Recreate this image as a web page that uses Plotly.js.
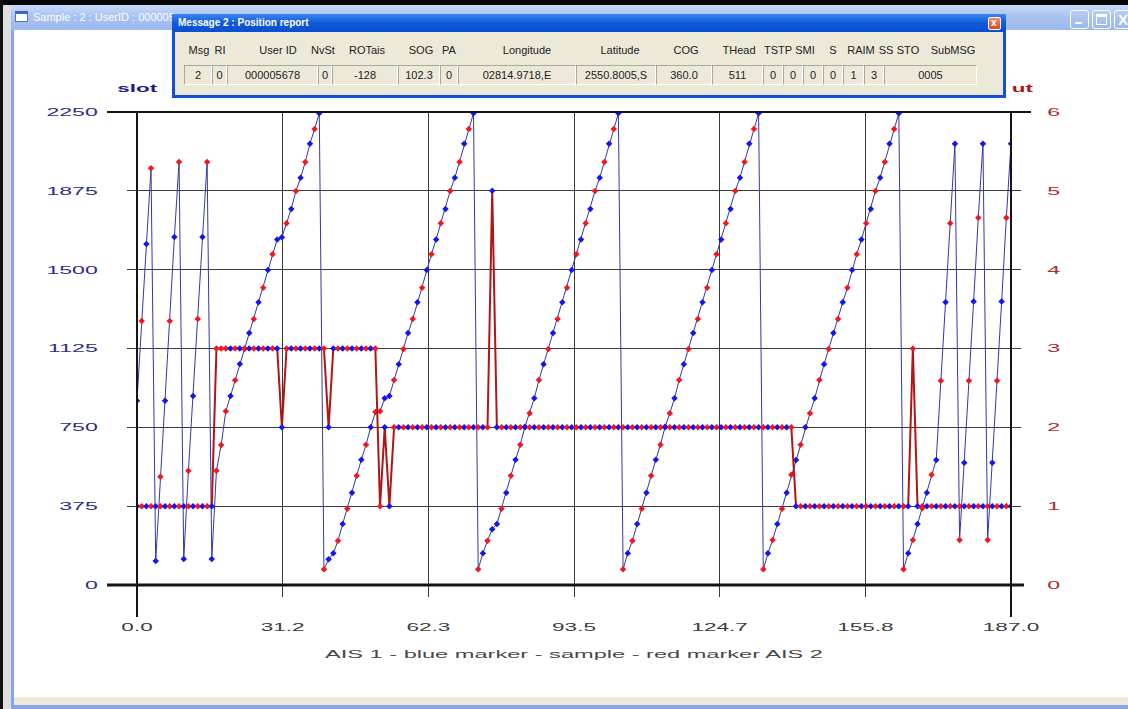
<!DOCTYPE html>
<html>
<head>
<meta charset="utf-8">
<script src="https://cdn.plot.ly/plotly-3.0.1.min.js"></script>
<style>
html,body{margin:0;padding:0;background:#fff;}
#wrap{position:relative;width:1128px;height:709px;overflow:hidden;background:#fff;font-family:"Liberation Sans",Arial,sans-serif;}
#plot{position:absolute;left:0;top:0;width:1128px;height:709px;}
.abs{position:absolute;box-sizing:border-box;}
.hdr{position:absolute;top:44px;width:80px;margin-left:-40px;text-align:center;font-size:11px;color:#222;white-space:nowrap;}
.cell{position:absolute;top:65px;height:20px;box-sizing:border-box;border-top:1px solid #aca899;border-left:1px solid #aca899;border-bottom:1px solid #fff;border-right:1px solid #fff;font-size:11px;color:#222;text-align:center;line-height:18px;white-space:nowrap;}
</style>
</head>
<body>
<div id="wrap">
  <div id="plot"></div>
</div>
<script>
// ---------------- data ----------------
const slotValues = [
  877,1256,1622,1982,114,515,877,1256,1655,2012,124,544,899,1265,1655,2012,124,
  543,666,826,899,974,1051,1123,1199,1265,1345,1414,1498,1573,1644,1654,1721,1789,1874,1937,2012,2099,2169,2244,
  75,122,151,211,290,363,439,520,596,667,750,823,826,888,899,975,1050,1123,1199,1265,1345,1414,1498,1573,1644,1721,1789,1874,1937,2012,2099,2169,2244,
  75,151,211,265,290,363,439,520,596,667,753,817,888,975,1050,1123,1199,1265,1345,1414,1498,1573,1644,1721,1789,1874,1937,2012,2099,2169,2244,
  75,151,211,290,363,439,520,596,667,753,817,888,975,1050,1123,1199,1265,1345,1414,1498,1573,1644,1721,1789,1874,1937,2012,2099,2169,2244,
  75,151,214,290,363,439,525,595,667,750,817,888,975,1050,1123,1199,1265,1345,1414,1498,1573,1644,1721,1789,1874,1937,2012,2099,2169,2244,
  75,151,214,290,365,439,525,595,972,1345,1721,2099,214,582,972,1348,1747,2099,214,582,972,1348,1747,2099
];
const slotTimeout = [
  1,1,1,1,1,1,1,1,1,1,1,1,1,1,1,1,1,
  3,3,3,3,3,3,3,3,3,3,3,3,3,3,
  2,
  3,3,3,3,3,3,3,3,3,
  2,
  3,3,3,3,3,3,3,3,3,3,
  1,2,1,
  2,2,2,2,2,2,2,2,2,2,2,2,2,2,2,2,2,2,2,2,2,
  5,
  2,2,2,2,2,2,2,2,2,2,2,2,2,2,2,2,
  2,2,2,2,2,2,2,2,2,2,2,2,2,2,2,2,
  2,2,2,2,2,2,2,2,2,2,2,2,2,2,2,2,
  2,2,2,2,2,2,2,2,2,2,2,2,2,2,2,2,
  1,1,1,1,1,1,1,1,1,1,1,1,1,1,1,1,1,1,1,1,1,1,1,1,1,
  3,
  1,1,1,1,1,1,1,1,1,1,1,1,1,1,1,1,1,1,1,1,1
];
// 1 = AIS 1 (blue marker), 2 = AIS 2 (red marker)
const channel = [
  1,2,1,2,1,2,1,2,1,2,1,2,1,2,1,2,1,
  2,2,2,1,2,1,2,1,2,1,2,1,2,1,1,2,1,2,1,2,1,2,1,
  2,1,1,2,1,2,1,2,1,2,1,2,2,1,1,2,1,2,1,2,1,2,1,2,1,2,1,2,1,2,1,2,1,
  2,1,2,1,1,2,1,2,1,2,1,2,1,2,1,2,1,2,1,2,1,2,1,2,1,2,1,2,1,2,1,
  2,1,2,1,2,1,2,1,2,1,2,1,2,1,2,1,2,1,2,1,2,1,2,1,2,1,2,1,2,1,
  2,1,2,1,2,1,2,1,2,1,2,1,2,1,2,1,2,1,2,1,2,1,2,1,2,1,2,1,2,1,
  2,1,2,1,2,1,2,1,2,1,2,1,2,1,2,1,2,1,2,1,2,1,2,1
];
const sampleTicks = [0, 31.17, 62.33, 93.5, 124.67, 155.83, 187];
const sampleTickText = ['0.0','31.2','62.3','93.5','124.7','155.8','187.0'];
const slotTicks = [0, 375, 750, 1125, 1500, 1875, 2250];
const timeoutTicks = [0, 1, 2, 3, 4, 5, 6];

const dlgHeaders = ['Msg','RI','User ID','NvSt','ROTais','SOG','PA','Longitude','Latitude','COG','THead','TSTP','SMI','S','RAIM','SS','STO','SubMSG'];
const dlgValues  = ['2','0','000005678','0','-128','102.3','0','02814.9718,E','2550.8005,S','360.0','511','0','0','0','0','1','3','0005'];

// ---------------- styling ----------------
const samples = slotValues.map((_, i) => i);
const chColor = {1:'#1414f2', 2:'#f2161e'};
const markerColors = channel.map(c => chColor[c]);
const FONT = '"Liberation Sans", Arial, sans-serif';

const traces = [
  {x: samples, y: slotValues, type:'scatter', mode:'lines+markers', yaxis:'y',
   line:{color:'#3636a6', width:1},
   marker:{symbol:'diamond', size:5, color:markerColors}, hoverinfo:'skip'},
  {x: samples, y: slotTimeout, type:'scatter', mode:'lines+markers', yaxis:'y2',
   line:{color:'#b01616', width:2},
   marker:{symbol:'diamond', size:5, color:markerColors}, hoverinfo:'skip'}
];

const frameCol = '#141414';
const layout = {
  width:1128, height:709,
  margin:{l:137, r:117, t:112, b:124, pad:0},
  paper_bgcolor:'#ffffff', plot_bgcolor:'#ffffff',
  showlegend:false,
  font:{family:FONT, size:11, color:'#333'},
  xaxis:{range:[0,187], tickmode:'array', tickvals:sampleTicks, ticktext:sampleTickText,
    ticks:'outside', ticklen:11, tickwidth:1, tickcolor:'#3a3a3a',
    showgrid:true, gridcolor:'#3a3a3a', gridwidth:1, zeroline:false, showline:false,
    tickfont:{family:FONT, size:11, color:'#3c3c3c'}, ticklabelstandoff:21,
    title:{text:'AIS 1 - blue marker - sample - red marker AIS 2', font:{family:FONT, size:11.5, color:'#474747'}, standoff:17},
    fixedrange:true},
  yaxis:{range:[0,2250], tickmode:'array', tickvals:slotTicks,
    ticks:'outside', ticklen:9, tickwidth:1, tickcolor:'#3a3a3a',
    showgrid:true, gridcolor:'#3a3a3a', gridwidth:1, zeroline:false, showline:false,
    tickfont:{family:FONT, size:11, color:'#2b2b8f'}, ticklabelstandoff:27, fixedrange:true},
  yaxis2:{range:[0,6], overlaying:'y', side:'right', tickmode:'array', tickvals:timeoutTicks,
    ticks:'outside', ticklen:9, tickwidth:1, tickcolor:'#3a3a3a',
    showgrid:false, zeroline:false, showline:false,
    tickfont:{family:FONT, size:11, color:'#b02a2a'}, ticklabelstandoff:24, fixedrange:true},
  shapes:[
    {type:'line', xref:'paper', yref:'paper', x0:-0.0343, x1:1.0229, y0:1, y1:1, line:{color:frameCol, width:2}},
    {type:'line', xref:'paper', yref:'paper', x0:-0.0343, x1:1.0149, y0:0, y1:0, line:{color:frameCol, width:3}},
    {type:'line', xref:'paper', yref:'paper', x0:0, x1:0, y0:-0.0677, y1:1, line:{color:frameCol, width:2}},
    {type:'line', xref:'paper', yref:'paper', x0:1, x1:1, y0:-0.0677, y1:1, line:{color:frameCol, width:2}}
  ],
  annotations:[
    {xref:'paper', yref:'paper', x:0, y:1.05, text:'slot', showarrow:false, xanchor:'center', yanchor:'middle',
     font:{family:FONT, size:11.5, color:'#1e1e88', weight:700}},
    {xref:'paper', yref:'paper', x:1.0, y:1.05, xshift:4, text:'ut', showarrow:false, xanchor:'left', yanchor:'middle',
     font:{family:FONT, size:11.5, color:'#a81818', weight:700}}
  ]
};

function stretch(sel, k){
  document.querySelectorAll(sel).forEach(t => {
    const w = t.getComputedTextLength();
    if (w > 0){
      t.setAttribute('textLength', (w*k).toFixed(1));
      t.setAttribute('lengthAdjust', 'spacingAndGlyphs');
    }
  });
}

Plotly.newPlot('plot', traces, layout, {staticPlot:true, displayModeBar:false}).then(() => {
  stretch('#plot .xtick text', 2.05);
  stretch('#plot .ytick text', 2.1);
  stretch('#plot .y2tick text', 2.1);
  stretch('#plot .g-xtitle text', 2.05);
  stretch('#plot .annotation-text', 1.95);
  buildChrome();
});

// ---------------- window chrome + dialog ----------------
function box(css, html){
  const d = document.createElement('div');
  d.className = 'abs';
  d.style.cssText = css;
  if (html !== undefined) d.innerHTML = html;
  document.getElementById('wrap').appendChild(d);
  return d;
}
function buildChrome(){
  // outer frame
  box('left:0;top:0;width:1128px;height:5px;background:#060606;');
  box('left:0;top:0;width:3px;height:709px;background:#101010;');
  box('left:3px;top:5px;width:8px;height:704px;background:#dedede;');
  box('left:11px;top:5px;width:3px;height:704px;background:#88a6e6;');
  box('left:14px;top:697px;width:1114px;height:8px;background:#ece9d8;');
  box('left:11px;top:705px;width:1117px;height:4px;background:#88a6e6;');
  // main title bar
  box('left:11px;top:5px;width:1117px;height:25px;background:linear-gradient(#c9daf8,#a9c3f1 45%,#9db8ec);');
  box('left:15px;top:11px;width:13px;height:11px;background:#fff;border:1px solid #5076c8;border-top:3px solid #3f66bd;');
  box('left:33px;top:10px;font-size:11px;color:#ffffff;white-space:nowrap;line-height:14px;', 'Sample : 2 : UserID : 000005');
  // window buttons
  const btn = 'top:10px;width:19px;height:19px;border:1px solid #ffffff;border-radius:3px;background:linear-gradient(#b9cdf3,#9cb7ea);';
  box('left:1070px;' + btn, '<div style="position:absolute;left:4px;top:11px;width:7px;height:2px;background:#fff"></div>');
  box('left:1092px;' + btn, '<div style="position:absolute;left:3px;top:3px;width:11px;height:11px;box-sizing:border-box;border:1px solid #fff;border-top:3px solid #fff"></div>');
  box('left:1114px;' + btn, '<div style="position:absolute;left:3px;top:0px;color:#fff;font-size:15px;font-weight:700;line-height:17px">X</div>');

  // dialog
  box('left:172px;top:14px;width:834px;height:84px;background:#ece9d8;border:3px solid #1150d8;border-top:none;');
  box('left:172px;top:14px;width:834px;height:18px;background:linear-gradient(#3c85f5,#0f5ad9 50%,#0a4fd0);');
  box('left:178px;top:16px;font-size:10px;font-weight:700;color:#fff;white-space:nowrap;line-height:14px;', 'Message 2 : Position report');
  box('left:988px;top:17px;width:13px;height:13px;background:linear-gradient(#f08a6a,#d8481e);border:1px solid #fff;border-radius:2px;',
      '<div style="position:absolute;left:2px;top:-1px;color:#fff;font-size:10px;font-weight:700;line-height:12px">x</div>');

  const hdrX = [199,220,278,323,367,421,449,527,620,686,739,778,805,833,861,886,908,953];
  dlgHeaders.forEach((h, i) => {
    const d = document.createElement('div');
    d.className = 'hdr';
    d.style.left = hdrX[i] + 'px';
    d.textContent = h;
    document.getElementById('wrap').appendChild(d);
  });
  const edges = [184,212,227,318,332,398,440,458,576,656,712,763,783,803,823,843,864,884,977];
  dlgValues.forEach((v, i) => {
    const d = document.createElement('div');
    d.className = 'cell';
    d.style.left = edges[i] + 'px';
    d.style.width = (edges[i+1] - edges[i]) + 'px';
    d.textContent = v;
    document.getElementById('wrap').appendChild(d);
  });
}
</script>
</body>
</html>
